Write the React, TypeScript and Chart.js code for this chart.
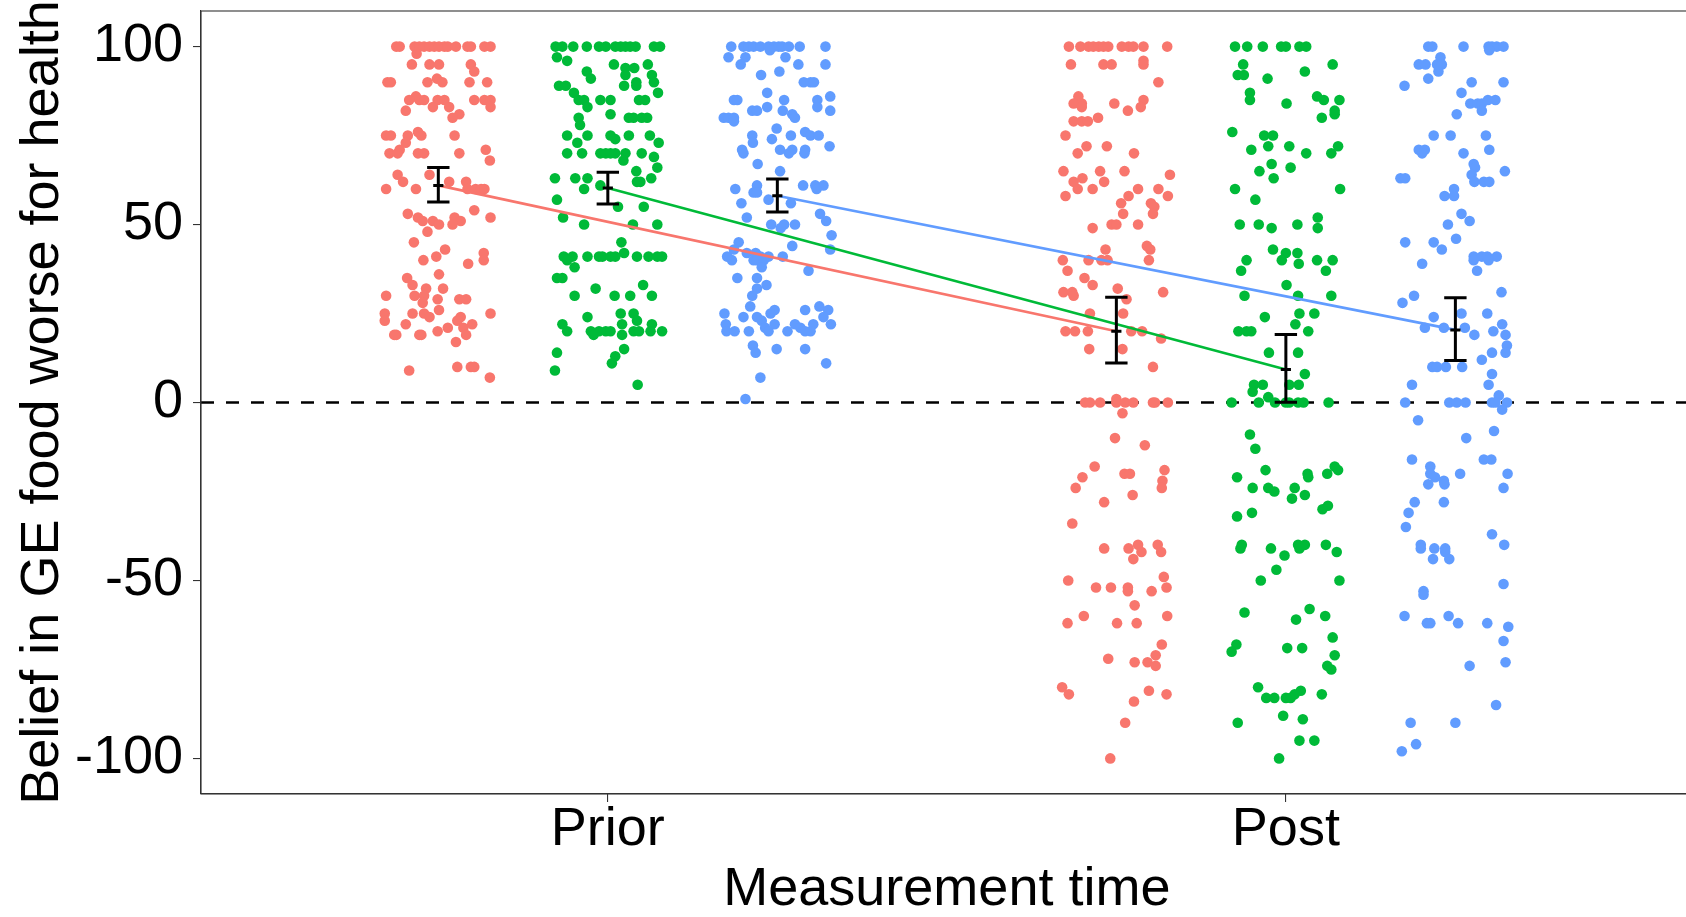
import React, { useEffect, useRef } from "react";
import { Chart, registerables } from "chart.js";

Chart.register(...registerables);

// ---------- data ----------
const categories = ["Prior", "Post"];
const yTicks = [-100, -50, 0, 50, 100];
const referenceValue = 0;
const xTitle = "Measurement time";
const yTitle = "Belief in GE food worse for health";
const groupColors = ["#F8766D", "#00BA38", "#619CFF"];
const groupDodge = [-0.25, 0, 0.25];

// each point: [horizontal jitter in hundredths of a category, value]
const priorRed: number[][] = [
  [-6.2,100],[-5.7,100],[-3.5,100],[-2.8,100],[-2.1,100],[-1.3,100],[-0.6,100],[0.1,100],[0.9,100],[1.4,100],[2.6,100],[4.3,100],[4.8,100],[6.8,100],[7.7,100],
  [-3.2,98],[-3.9,95],[-1.3,95],[0.1,95],[4.8,95],[5.3,93],[-0.2,91],
  [-7.5,90],[-7.0,90],[-1.6,90],[0.6,90],[4.6,90],[7.2,90],[-3.3,86],
  [-4.3,85],[-2.8,85],[-2.1,85],[-0.1,85],[0.9,85],[5.3,85],[6.8,85],[7.7,85],
  [-0.8,83],[1.6,83],[7.7,83],[-4.8,82],[3.1,81],[2.1,80],[-3.0,76],
  [-7.7,75],[-7.0,75],[-4.5,75],[-2.5,75],[2.4,75],[-4.8,73],[-5.7,71],[7.0,71],
  [-7.2,70],[-6.0,70],[-3.0,70],[-2.1,70],[3.1,70],[7.6,68],[-6.0,64],[-1.3,64],
  [-5.2,62],[1.6,62],[4.1,62],[-7.7,60],[-3.3,60],[4.3,60],[5.5,60],[6.3,60],[6.8,60],
  [5.3,54],[-4.5,53],[-3.0,52],[2.4,52],[7.7,52],[-2.3,51],[-0.8,51],[3.3,51],[0.1,50],[2.1,50],
  [-1.6,48],[-3.6,45],[1.0,43],[6.7,42],[-0.3,41],[-2.2,40],[6.7,40],[4.4,39],[0.1,36],[-4.6,35],
  [-3.8,33],[-1.8,32],[0.7,32],[-7.7,30],[-3.5,30],[-2.1,30],[-0.1,29],[3.1,29],[4.1,29],[-2.3,28],
  [0.1,26],[-7.9,25],[-3.8,25],[-2.1,25],[7.7,25],[-1.3,24],[3.3,24],[-7.9,23],[2.8,23],[-4.8,22],[5.0,22],
  [1.4,21],[3.7,21],[-0.1,20],[-6.2,19],[-2.5,19],[4.1,19],[-6.5,19],[-2.8,19],[2.6,17],
  [2.8,10],[4.8,10],[5.3,10],[-4.3,9],[7.6,7],
];

const priorGreen: number[][] = [
  [-7.7,100],[-6.7,100],[-5.1,100],[-3.1,100],[-1.3,100],[-0.3,100],[1.1,100],[1.9,100],[2.6,100],[3.3,100],[4.1,100],[6.8,100],[7.7,100],
  [-7.5,97],[-6.0,96],[0.9,95],[2.6,94],[3.9,94],[5.9,95],[-3.1,93],[-2.5,91],[2.6,92],[6.5,92],[4.2,90],[6.8,90],
  [-7.2,89],[-6.2,89],[2.4,89],[4.2,89],[7.4,87],[-5.0,87],
  [-4.3,85],[-3.5,85],[-1.1,85],[0.4,85],[4.6,85],[5.5,85],[-3.0,83],[0.4,81],
  [-4.3,80],[3.1,80],[3.8,80],[5.0,80],[5.8,80],[-4.1,78],
  [-6.0,75],[-3.0,75],[0.4,75],[3.1,75],[6.2,75],[1.1,74],[-4.5,73],[7.5,73],
  [-6.0,70],[-3.8,70],[-1.1,70],[-0.3,70],[0.4,70],[1.1,70],[2.6,70],[5.0,70],[6.8,69],[2.3,68],[7.3,66],[4.2,65],
  [-7.8,63],[-4.8,63],[-3.0,63],[6.4,63],[4.3,62],[4.8,62],[-1.1,61],[-3.5,60],[-7.5,57],[1.5,55],[5.3,55],[-6.6,52],
  [-3.5,50],[3.7,50],[7.3,50],[2.0,45],[2.4,42],
  [-6.5,41],[-5.2,41],[-3.0,41],[-1.3,41],[-0.8,41],[0.4,41],[1.1,41],[4.3,41],[6.0,41],[7.3,41],[8.0,41],[-6.0,40],
  [-4.9,38],[-7.5,35],[-6.7,35],[5.2,33],[-1.8,32],[-4.9,30],[1.0,30],[3.3,30],[6.5,30],
  [1.9,25],[3.8,25],[-3.0,24],[4.3,23],[2.1,22],[-6.7,22],[6.5,22],
  [-6.0,20],[-2.5,20],[-1.3,20],[-0.3,20],[0.4,20],[3.8,20],[4.6,20],[6.3,20],[8.0,20],[-2.1,19],[2.1,19],
  [2.4,15],[-7.5,14],[1.1,13],[0.6,11],[-7.8,9],[4.4,5],
];

const priorBlue: number[][] = [
  [-6.8,100],[-5.0,100],[-4.2,100],[-3.5,100],[-2.5,100],[-1.3,100],[-0.5,100],[0.2,100],[0.7,100],[1.7,100],[3.3,100],[7.1,100],
  [-1.1,99],[-7.2,97],[-4.7,97],[1.2,97],[-5.4,95],[3.1,95],[7.1,95],[0.3,93],[-2.4,92],[3.9,90],[4.9,90],[5.4,90],
  [-1.5,87],[-6.4,85],[-5.9,85],[1.0,85],[5.9,85],[7.8,86],[-1.5,83],[5.9,83],[-3.7,82],[-3.0,82],[0.8,82],[7.8,82],[2.2,81],
  [-7.9,80],[-7.2,80],[-6.4,80],[2.6,80],[-6.4,79],[-0.1,77],[4.1,76],[-3.7,75],[2.0,75],[4.9,75],[6.1,75],[-0.8,74],[-3.6,73],[7.7,72],
  [-5.2,71],[0.4,71],[2.2,71],[4.1,71],[-5.0,70],[1.7,70],[4.0,70],[-2.9,67],[0.4,65],
  [-3.0,61],[5.6,61],[6.8,61],[3.8,61],[-6.2,60],[5.8,60],[-3.5,59],[-3.0,59],[-1.3,57],[-5.3,56],[2.0,56],[6.3,53],[-4.5,52],[7.2,51],
  [-0.9,50],[1.0,50],[2.6,50],[0.5,49],[8.0,47],[-5.7,45],[2.2,44],[7.8,43],[-6.4,43],[-4.5,42],[-3.2,42],
  [-7.4,41],[-2.5,41],[-1.3,41],[0.8,41],[-6.7,40],[-3.5,40],[-3.0,40],[-2.0,40],[-2.3,38],[4.6,37],[-5.9,35],[-3.0,35],[-1.6,33],[-3.0,32],[-3.7,30],
  [-4.0,27],[6.2,27],[-0.4,26],[4.1,26],[7.5,26],[-7.8,25],[-1.0,25],[-5.0,24],[-3.0,24],[6.8,24],[-2.3,23],
  [-7.6,22],[-0.4,22],[2.6,22],[5.3,22],[7.9,22],[-1.8,21],[3.4,21],[-7.5,20],[-6.3,20],[-4.2,20],[-1.3,20],[1.5,20],[4.1,20],[4.9,20],
  [-3.6,16],[-0.1,15],[4.1,15],[-3.2,14],[7.2,11],[-2.5,7],[-4.7,1],
];

const postRed: number[][] = [
  [-7.0,100],[-5.3,100],[-4.1,100],[-3.4,100],[-2.6,100],[-1.9,100],[-1.2,100],[0.8,100],[1.8,100],[2.5,100],[4.0,100],[7.5,100],
  [4.0,96],[-6.7,95],[-1.9,95],[-0.7,95],[4.0,95],[6.2,90],[-5.6,86],[4.0,85],[-6.3,84],[-5.1,84],[-0.3,84],[-5.1,83],[3.6,83],[1.7,82],
  [-2.7,80],[-6.3,79],[-5.1,79],[-4.2,79],[-7.5,75],[-4.4,72],[-1.4,72],[-5.7,70],[2.6,70],
  [-7.8,65],[-2.4,65],[1.2,65],[7.9,64],[-5.0,63],[-6.3,62],[-1.8,62],[-5.7,60],[-3.5,60],[3.2,60],[6.2,60],
  [-7.5,58],[1.8,58],[7.6,58],[0.7,56],[5.1,56],[5.6,55],[1.0,53],[5.4,53],[-0.7,50],[0.0,50],[3.2,50],[-3.5,49],
  [4.5,44],[-1.6,43],[5.0,43],[-7.9,40],[-4.1,40],[-2.2,40],[-1.3,40],[4.8,40],[-7.2,37],[-4.7,35],[-3.5,33],[0.2,32],
  [-7.8,31],[-6.5,31],[6.9,31],[-6.3,30],[1.5,29],[-3.9,25],[1.0,25],
  [-7.5,20],[-6.1,20],[-4.2,20],[2.2,20],[3.8,20],[6.6,18],[-4.0,15],[0.9,15],[5.4,10],[0.0,1],
  [-4.6,0],[-3.9,0],[-2.4,0],[0.0,0],[1.3,0],[2.5,0],[5.4,0],[5.7,0],[7.6,0],
  [0.9,-3],[-0.2,-10],[4.2,-12],[-3.2,-18],[7.1,-19],[1.2,-20],[2.0,-20],[-5.0,-21],[6.8,-22],[-6.0,-24],[6.7,-24],[2.4,-26],[-1.8,-28],
  [-6.5,-34],[-1.8,-41],[1.8,-41],[3.2,-40],[6.1,-40],[3.7,-42],[6.6,-42],[2.5,-44],[7.0,-49],[-7.1,-50],
  [-3.0,-52],[-0.8,-52],[1.7,-52],[7.4,-52],[1.7,-53],[5.2,-53],[2.7,-57],[-4.8,-60],[7.5,-60],[-7.2,-62],[0.1,-62],[3.0,-62],
  [6.7,-68],[5.8,-71],[-1.2,-72],[2.7,-73],[4.6,-73],[5.8,-74],[-8.0,-80],[4.8,-81],[-7.0,-82],[7.4,-82],[2.6,-84],[1.3,-90],[-0.9,-100],
];

const postGreen: number[][] = [
  [-7.5,100],[-5.7,100],[-3.4,100],[-0.7,100],[0.0,100],[2.0,100],[3.0,100],
  [-6.3,95],[6.9,95],[2.8,93],[-7.1,92],[-6.2,92],[-2.7,91],[-5.3,87],[4.6,86],[-5.3,85],[5.6,85],[7.9,85],[0.1,84],[7.2,82],[7.2,81],[5.3,80],
  [-7.9,76],[-3.2,75],[-1.9,75],[-2.6,72],[0.5,72],[7.7,72],[-5.1,71],[3.0,70],[6.7,70],[-2.1,67],[0.7,66],[-3.9,65],[-1.8,63],
  [-7.5,60],[8.0,60],[-4.5,57],[4.7,52],[-6.8,50],[-4.0,50],[1.7,50],[-2.1,49],[4.7,49],
  [-1.9,43],[0.0,42],[1.7,42],[-5.8,40],[-0.6,40],[4.6,40],[6.9,40],[1.9,39],[-6.6,37],[5.9,37],[0.1,33],[-6.1,30],[1.8,30],[6.7,30],
  [2.0,25],[4.2,25],[-3.1,24],[1.4,22],[-7.0,20],[-5.8,20],[-5.1,20],[3.3,20],[-2.5,14],[1.8,14],[2.8,8],
  [-4.7,5],[-3.4,5],[0.5,5],[1.9,5],[-4.9,3],[-2.6,1.5],
  [-8.0,0],[-4.0,0],[-1.6,0],[0.0,0],[0.5,0],[1.8,0],[2.6,0],[6.3,0],
  [-5.3,-9],[-4.5,-13],[-3.0,-19],[-7.2,-21],[3.2,-20],[6.1,-20],[7.2,-18],[7.7,-19],[3.3,-21],
  [-4.9,-24],[-2.6,-24],[1.3,-24],[-1.7,-25],[2.8,-26],[0.9,-27],[6.2,-29],[5.4,-30],[-5.0,-31],[-7.2,-32],
  [-6.5,-40],[1.8,-40],[2.8,-40],[5.9,-40],[-6.7,-41],[2.0,-41],[-2.2,-41],[7.5,-42],[-0.2,-43],[-1.4,-47],[-3.7,-50],[7.9,-50],
  [3.5,-58],[-6.1,-59],[5.8,-60],[1.5,-61],[6.9,-66],[-7.3,-68],[0.2,-69],[2.4,-69],[-8.0,-70],[7.2,-71],[6.1,-74],[6.7,-75],
  [-4.1,-80],[2.2,-81],[1.3,-82],[5.3,-82],[-2.9,-83],[-1.7,-83],[0.0,-83],[0.7,-83],[-0.4,-88],[2.5,-89],[-7.1,-90],[2.0,-95],[4.2,-95],[-1.0,-100],
];

const postBlue: number[][] = [
  [-4.0,100],[-3.4,100],[1.2,100],[4.9,100],[5.4,100],[6.1,100],[7.1,100],[5.0,99],[-2.2,97],
  [-5.4,95],[-4.4,95],[-2.7,95],[-2.0,95],[-2.5,93],[-4.0,91],[2.4,90],[7.1,90],[-7.5,89],[0.9,87],
  [2.2,84],[3.3,84],[3.9,84],[4.8,85],[5.9,85],[3.9,82],[0.2,81],[-3.2,75],[-0.7,75],[4.5,75],
  [-5.4,71],[-4.5,71],[5.0,71],[-4.9,70],[1.2,70],[2.7,67],[2.9,66],[7.3,65],[2.4,64],[-8.1,63],[-7.4,63],
  [2.8,62],[4.2,62],[5.0,62],[-0.2,60],[-1.6,58],[-0.2,58],[0.9,53],[2.1,51],[-1.1,50],[0.1,46],[-7.4,45],[-3.2,45],[-2.0,43],
  [2.7,41],[3.9,41],[4.7,41],[6.1,41],[2.7,40],[4.9,40],[-4.9,39],[3.2,37],[6.8,31],[-6.1,30],[-7.8,28],
  [0.9,25],[4.7,25],[-3.2,24],[6.9,22],[-4.5,21],[-1.7,21],[1.4,21],[5.6,20],[2.8,19],[7.4,19],[7.6,16],[7.4,14],[5.4,14],[3.9,12],
  [-3.4,10],[-2.7,10],[-1.4,10],[1.0,10],[5.4,8],[-6.4,5],[4.9,5],[6.4,2],
  [-7.4,0],[-0.9,0],[0.2,0],[1.5,0],[5.4,0],[5.9,0],[7.6,0],[6.9,-2],
  [-5.5,-5],[5.7,-8],[1.6,-10],[-6.4,-16],[4.2,-16],[5.3,-16],[-3.7,-18],[-3.7,-20],[0.7,-20],[7.7,-20],[-3.0,-21],[-1.7,-22],[-4.0,-23],[-1.6,-23],[7.1,-24],
  [-6.0,-28],[-1.7,-28],[-6.9,-31],[-7.3,-35],[5.4,-37],[-5.1,-40],[7.2,-40],[-5.1,-41],[-3.1,-41],[-1.5,-41],[-1.5,-42],[-3.3,-44],[-0.9,-44],
  [7.1,-51],[-4.7,-53],[-4.7,-54],[-7.5,-60],[-1.0,-60],[-4.2,-62],[-3.7,-62],[0.4,-62],[4.7,-62],[7.8,-63],[7.1,-67],[7.4,-73],[2.1,-74],
  [6.0,-85],[-6.6,-90],[0.0,-90],[-5.8,-96],[-7.9,-98],
];

// group summaries (mean and error-bar limits), order: red, green, blue
const priorMeans = [61, 60.3, 58.1];
const priorLow = [56.3, 55.8, 53.5];
const priorHigh = [66, 64.7, 62.8];
const postMeans = [20, 9.3, 20.4];
const postLow = [11.1, 0.1, 11.8];
const postHigh = [29.6, 19.1, 29.4];

// ---------- styling ----------
const FONT = "'Liberation Sans', Arial, Helvetica, sans-serif";
const AXIS_COLOR = "#333333";
const CANVAS_W = 1698;
const CANVAS_H = 917;

export default function App() {
  const canvasRef = useRef<HTMLCanvasElement | null>(null);

  useEffect(() => {
    const canvas = canvasRef.current;
    if (!canvas) return;

    const pointGroups = [
      [priorRed, priorGreen, priorBlue],
      [postRed, postGreen, postBlue],
    ];
    const meanSets = [priorMeans, postMeans];
    const lowSets = [priorLow, postLow];
    const highSets = [priorHigh, postHigh];

    const datasets: any[] = [];
    pointGroups.forEach((groups, ci) => {
      groups.forEach((pts, gi) => {
        datasets.push({
          type: "scatter",
          data: pts.map(([j, v]) => ({ x: ci + 1 + groupDodge[gi] + j / 100, y: v })),
          backgroundColor: groupColors[gi],
          borderWidth: 0,
          pointRadius: 5.3,
          pointHoverRadius: 5.3,
          pointBorderWidth: 0,
          order: 3,
        });
      });
    });
    groupColors.forEach((c, gi) => {
      datasets.push({
        type: "line",
        data: meanSets.map((m, ci) => ({ x: ci + 1 + groupDodge[gi], y: m[gi] })),
        borderColor: c,
        backgroundColor: c,
        borderWidth: 2.6,
        pointRadius: 0,
        fill: false,
        tension: 0,
        order: 2,
      });
    });

    const zeroLine = {
      id: "zeroLine",
      beforeDatasetsDraw(chart: any) {
        const { ctx, chartArea, scales } = chart;
        const y = scales.y.getPixelForValue(referenceValue);
        ctx.save();
        ctx.strokeStyle = "#000";
        ctx.lineWidth = 2.7;
        ctx.setLineDash([13, 12]);
        ctx.beginPath();
        ctx.moveTo(chartArea.left, y);
        ctx.lineTo(chartArea.right, y);
        ctx.stroke();
        ctx.restore();
      },
    };

    const errorBars = {
      id: "errorBars",
      afterDatasetsDraw(chart: any) {
        const { ctx, scales } = chart;
        ctx.save();
        ctx.strokeStyle = "#000";
        ctx.lineWidth = 3;
        ctx.lineCap = "butt";
        meanSets.forEach((means, ci) => {
          means.forEach((m, gi) => {
            const xc = ci + 1 + groupDodge[gi];
            const x = scales.x.getPixelForValue(xc);
            const xl = scales.x.getPixelForValue(xc - 0.0165);
            const xr = scales.x.getPixelForValue(xc + 0.0165);
            const ml = scales.x.getPixelForValue(xc - 0.0075);
            const mr = scales.x.getPixelForValue(xc + 0.0075);
            const yLo = scales.y.getPixelForValue(lowSets[ci][gi]);
            const yHi = scales.y.getPixelForValue(highSets[ci][gi]);
            const yM = scales.y.getPixelForValue(m);
            ctx.beginPath();
            ctx.moveTo(x, yLo);
            ctx.lineTo(x, yHi);
            ctx.moveTo(xl, yLo);
            ctx.lineTo(xr, yLo);
            ctx.moveTo(xl, yHi);
            ctx.lineTo(xr, yHi);
            ctx.moveTo(ml, yM);
            ctx.lineTo(mr, yM);
            ctx.stroke();
          });
        });
        ctx.restore();
      },
    };

    const frame = {
      id: "frame",
      afterDraw(chart: any) {
        const { ctx, chartArea } = chart;
        ctx.save();
        ctx.strokeStyle = AXIS_COLOR;
        ctx.lineWidth = 1.1;
        ctx.strokeRect(chartArea.left, chartArea.top, chartArea.right - chartArea.left, chartArea.bottom - chartArea.top);
        ctx.restore();
      },
    };

    const chart = new Chart(canvas, {
      type: "scatter",
      data: { datasets },
      plugins: [zeroLine, errorBars, frame],
      options: {
        responsive: false,
        animation: false,
        devicePixelRatio: 1,
        events: [],
        layout: { padding: { top: 11, left: 0, right: 0, bottom: 0 } },
        plugins: {
          legend: { display: false },
          tooltip: { enabled: false },
        },
        scales: {
          x: {
            type: "linear",
            min: 0.4,
            max: 2.6,
            afterBuildTicks: (s: any) => {
              s.ticks = categories.map((_, i) => ({ value: i + 1 }));
            },
            afterFit: (s: any) => {
              s.height = 123;
              s.paddingLeft = 0;
              s.paddingRight = 0;
              s.paddingTop = 0;
              s.paddingBottom = 0;
            },
            ticks: {
              autoSkip: false,
              maxRotation: 0,
              minRotation: 0,
              padding: 1,
              color: "#000",
              font: { family: FONT, size: 54, lineHeight: 1 },
              callback: (_v: any, i: number) => categories[i],
            },
            grid: {
              display: true,
              drawOnChartArea: false,
              drawTicks: true,
              tickLength: 8,
              color: AXIS_COLOR,
              lineWidth: 1.1,
            },
            border: { display: true, color: AXIS_COLOR, width: 1.1 },
            title: {
              display: true,
              text: xTitle,
              color: "#000",
              font: { family: FONT, size: 54, lineHeight: 1 },
              padding: { top: 0, bottom: 0 },
            },
          },
          y: {
            type: "linear",
            min: -110,
            max: 110,
            afterBuildTicks: (s: any) => {
              s.ticks = yTicks.map((v) => ({ value: v }));
            },
            afterFit: (s: any) => {
              s.width = 201;
              s.paddingLeft = 0;
              s.paddingRight = 0;
              s.paddingTop = 0;
              s.paddingBottom = 0;
            },
            ticks: {
              padding: 10,
              color: "#000",
              font: { family: FONT, size: 54, lineHeight: 1 },
              callback: (v: any) => String(v),
            },
            grid: {
              display: true,
              drawOnChartArea: false,
              drawTicks: true,
              tickLength: 8,
              color: AXIS_COLOR,
              lineWidth: 1.1,
            },
            border: { display: true, color: AXIS_COLOR, width: 1.1 },
            title: {
              display: true,
              text: yTitle,
              color: "#000",
              font: { family: FONT, size: 54, lineHeight: 1 },
              padding: { top: 16, bottom: 0 },
            },
          },
        },
      } as any,
    });

    return () => {
      chart.destroy();
    };
  }, []);

  return (
    <div
      style={{
        position: "absolute",
        left: 0,
        top: 0,
        width: 1686,
        height: 917,
        overflow: "hidden",
        background: "#fff",
      }}
    >
      <canvas ref={canvasRef} width={CANVAS_W} height={CANVAS_H} style={{ display: "block" }} />
    </div>
  );
}
